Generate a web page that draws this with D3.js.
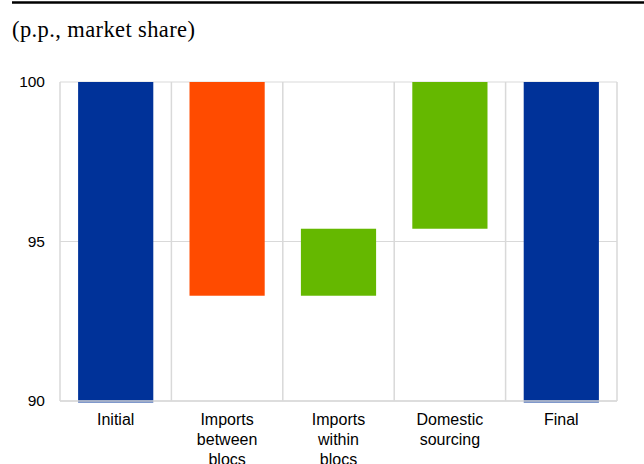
<!DOCTYPE html>
<html>
<head>
<meta charset="utf-8">
<script src="https://cdn.jsdelivr.net/npm/d3@7"></script>
<style>
  body { margin: 0; background: #fff; }
  svg text { font-family: "Liberation Sans", Arial, sans-serif; }
</style>
</head>
<body>
<svg width="644" height="464"></svg>
<script>
// waterfall data: each bar spans [low, high]
var categories = ["Initial", "Imports between blocs", "Imports within blocs", "Domestic sourcing", "Final"];
var catLines = [["Initial"], ["Imports", "between", "blocs"], ["Imports", "within", "blocs"], ["Domestic", "sourcing"], ["Final"]];
var lows  = [90, 93.3, 93.3, 95.4, 90];
var highs = [100, 100, 95.4, 100, 100];
var kinds = ["total", "down", "up", "up", "total"];
var yTicks = [90, 95, 100];

var colors = {total: "#003299", down: "#ff4b00", up: "#65b800"};

var margin = {top: 82, right: 27, bottom: 63, left: 60},
    width = 644 - margin.left - margin.right,
    height = 464 - margin.top - margin.bottom;

var svg = d3.select("svg");

// black rule at the top
svg.append("line")
    .attr("x1", 12).attr("x2", 644)
    .attr("y1", 2.5).attr("y2", 2.5)
    .attr("stroke", "#000").attr("stroke-width", 2.5);

var titleText = "(p.p., market share)";
var title = svg.append("text")
    .attr("x", 12).attr("y", 37)
    .style("font-family", "'Liberation Serif', 'DejaVu Serif', serif")
    .style("font-size", "22.5px")
    .attr("fill", "#000")
    .text(titleText);
// palatino isn't around: spread the serif stand-in to the same width
var tw = title.node().getComputedTextLength();
title.style("letter-spacing", ((183 - tw) / (titleText.length - 1)) + "px");

var g = svg.append("g")
    .attr("transform", "translate(" + margin.left + "," + margin.top + ")");

var x = d3.scaleBand().domain(categories).range([0, width]).paddingInner(0).paddingOuter(0);
var y = d3.scaleLinear().domain([90, 100]).range([height, 0]);

// horizontal gridlines
g.selectAll(".hgrid").data(yTicks).enter().append("line")
    .attr("x1", 0).attr("x2", width)
    .attr("y1", function(d) { return y(d); })
    .attr("y2", function(d) { return y(d); })
    .attr("stroke", "#d9d9d9").attr("stroke-width", 1);

// vertical separators between categories
var bounds = categories.map(function(c) { return x(c); }).concat([width]);
g.selectAll(".vgrid").data(bounds).enter().append("line")
    .attr("x1", function(d) { return d; }).attr("x2", function(d) { return d; })
    .attr("y1", 0).attr("y2", height)
    .attr("stroke", "#d9d9d9").attr("stroke-width", 1.5);

var barW = x.bandwidth() * 0.675;

g.selectAll(".bar").data(categories).enter().append("rect")
    .attr("x", function(d) { return x(d) + (x.bandwidth() - barW) / 2; })
    .attr("width", barW)
    .attr("y", function(d, i) { return y(highs[i]); })
    .attr("height", function(d, i) { return y(lows[i]) - y(highs[i]) + (lows[i] === 90 ? 1.5 : 0); })
    .attr("fill", function(d, i) { return colors[kinds[i]]; });

// x axis line
g.append("line")
    .attr("x1", 0).attr("x2", width)
    .attr("y1", height).attr("y2", height)
    .attr("stroke", "#d9d9d9").attr("stroke-width", 1.5);

// y tick labels
g.selectAll(".ylab").data(yTicks).enter().append("text")
    .attr("x", -15)
    .attr("y", function(d) { return y(d); })
    .attr("dy", "0.35em")
    .attr("text-anchor", "end")
    .style("font-size", "15.5px")
    .attr("fill", "#000")
    .text(function(d) { return d; });

// category labels
var lab = g.selectAll(".xlab").data(categories).enter().append("text")
    .attr("text-anchor", "middle")
    .attr("transform", function(d) { return "translate(" + (x(d) + x.bandwidth() / 2) + "," + (height + 24) + ")"; })
    .style("font-size", "16px")
    .attr("fill", "#000");

lab.selectAll("tspan").data(function(d, i) { return catLines[i]; }).enter().append("tspan")
    .attr("x", 0)
    .attr("dy", function(d, i) { return i === 0 ? 0 : 20; })
    .text(function(d) { return d; });
</script>
</body>
</html>
